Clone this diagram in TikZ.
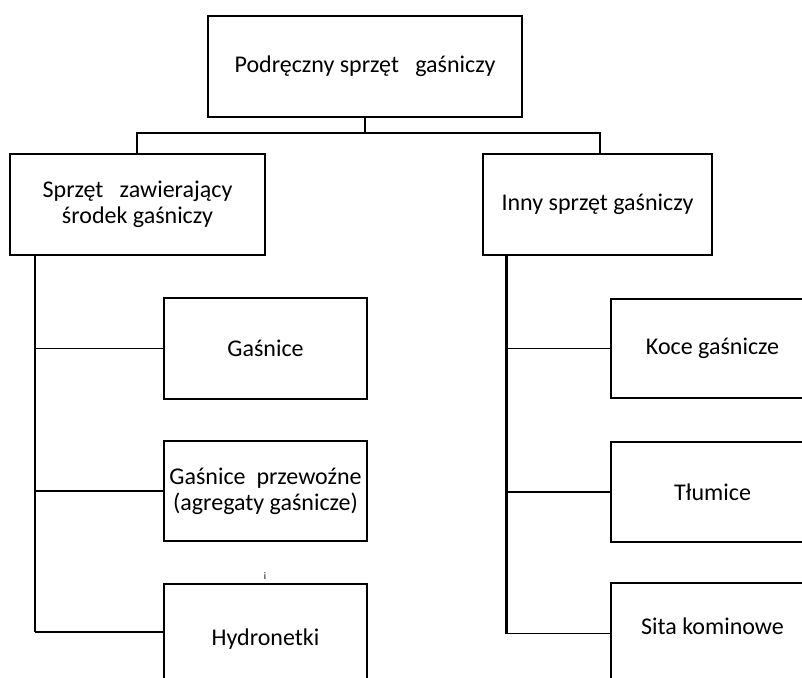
\documentclass[tikz,border=0pt]{standalone}
\usepackage{fontspec}
\setmainfont{Carlito}
\begin{document}
\begin{tikzpicture}[x=1pt,y=-1pt,
  box/.style={draw=black,line width=2pt,rectangle,inner sep=0pt,align=center,
     font=\fontsize{24}{26}\selectfont},
  lbl/.style={inner sep=0pt,font=\fontsize{24}{26}\selectfont},
  conn/.style={line width=1.8pt},
  trunk/.style={line width=2.2pt}]
\useasboundingbox (0,0) rectangle (802,677);
\clip (0,0) rectangle (802,677);
\node[box,minimum width=314pt,minimum height=101pt] (top) at (365,66.5) {Podręczny sprzęt\ \ \ gaśniczy};
\node[box,minimum width=255pt,minimum height=101pt] (left) at (137.5,204.5) {Sprzęt\ \ \ zawierający\\środek gaśniczy};
\node[box,minimum width=229pt,minimum height=101pt] (right) at (597.5,204.5) {Inny sprzęt gaśniczy};
\node[box,minimum width=203pt,minimum height=101pt] (gas) at (265.5,348.5) {Gaśnice};
\node[box,minimum width=203pt,minimum height=100pt] (gp) at (265.5,491) {Gaśnice\ \ przewoźne\\(agregaty gaśnicze)};
\node[box,minimum width=203pt,minimum height=101pt] (hyd) at (265.5,634.5) {};
\node[lbl] (hydt) at (265.5,639) {Hydronetki};
\node[box,minimum width=203pt,minimum height=99pt] (koc) at (712.5,348.5) {Koce gaśnicze};
\node[box,minimum width=203pt,minimum height=100pt] (tlu) at (712.5,492) {Tłumice};
\node[box,minimum width=203pt,minimum height=101pt] (sit) at (712.5,633.5) {};
\node[lbl] (sitt) at (712.5,626) {Sita kominowe};
\node[inner sep=0pt,font=\fontsize{10}{11}\selectfont] (ii) at (265,576) {i};
% top connectors
\coordinate (bus) at (365,133);
\draw[conn] (top.south) -- (bus);
\draw[conn] (137,154) -- (137,133) -- (600,133) -- (600,154);
% left trunk
\coordinate (lt) at (35,255);
\coordinate (lb) at (35,632);
\draw[trunk] (lt) -- (lb);
\draw[conn] (35,348.5) -- (gas.west);
\draw[conn] (35,491) -- (gp.west);
\draw[conn] (lb) -- (164,632);
% right trunk
\coordinate (rt) at (506.5,255);
\coordinate (rb) at (506.5,633.5);
\draw[trunk] (rt) -- (rb);
\draw[conn] (506.5,348.5) -- (koc.west);
\draw[conn] (506.5,492) -- (tlu.west);
\draw[conn] (rb) -- (611,633.5);
\end{tikzpicture}
\end{document}
